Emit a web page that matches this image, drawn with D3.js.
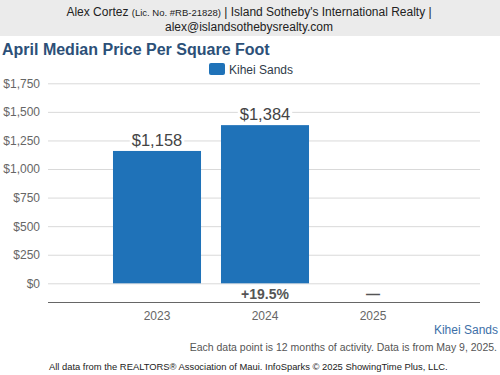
<!DOCTYPE html>
<html><head><meta charset="utf-8">
<script src="https://cdn.jsdelivr.net/npm/d3@7"></script>
<style>body{margin:0;background:#fff}svg{display:block;font-family:"Liberation Sans",Arial,sans-serif}</style>
</head><body><svg id="c" width="500" height="375"></svg>
<script>
const categories = ["2023", "2024", "2025"];
const values = [1158, 1384, null];
const valueLabels = ["$1,158", "$1,384", ""];
const changeLabels = ["", "+19.5%", "—"];
const yTicks = [0, 250, 500, 750, 1000, 1250, 1500, 1750];
const seriesName = "Kihei Sands";

const svg = d3.select("#c");
const blue = "#1f72b8";

// header
svg.append("rect").attr("x",0).attr("y",0).attr("width",500).attr("height",36).attr("fill","#ebebeb");
const h1 = svg.append("text").attr("x",249).attr("y",16).attr("text-anchor","middle").attr("fill","#222").attr("font-size",12);
h1.append("tspan").text("Alex Cortez ");
h1.append("tspan").attr("font-size",9.5).text("(Lic. No. #RB-21828)");
h1.append("tspan").text(" | Island Sotheby's International Realty |");
svg.append("text").attr("x",249).attr("y",31).attr("text-anchor","middle").attr("fill","#222").attr("font-size",12).text("alex@islandsothebysrealty.com");

// title
svg.append("text").attr("x",2).attr("y",55).attr("fill","#2c5078").attr("font-size",16).attr("font-weight","bold").text("April Median Price Per Square Foot");

// legend
svg.append("rect").attr("x",209).attr("y",63).attr("width",16).attr("height",12).attr("rx",2).attr("fill",blue);
svg.append("text").attr("x",229).attr("y",74).attr("fill","#2f3b4a").attr("font-size",12).text(seriesName);

const y = d3.scaleLinear().domain([0,1750]).range([283.3,83.3]);
const x = d3.scaleBand().domain(categories).range([103,427]).paddingInner(0.185).paddingOuter(0.0925);

// grid
const grid = svg.append("g")
  .call(d3.axisLeft(y).tickValues(yTicks).tickSize(-432).tickFormat(d => "$" + d3.format(",")(d)))
  .attr("transform","translate(48,0)");
grid.select(".domain").remove();
grid.selectAll(".tick line").attr("stroke","#d9d9d9").attr("stroke-width",1);
grid.selectAll(".tick text").attr("fill","#666").attr("font-size",12).attr("x",-8).attr("font-family","Liberation Sans, Arial, sans-serif");

// bars
svg.append("g").selectAll("rect").data(categories.map((c,i)=>({c,v:values[i]})).filter(d=>d.v!=null))
  .join("rect").attr("x",d=>x(d.c)).attr("width",x.bandwidth()).attr("y",d=>y(d.v)).attr("height",d=>y(0)-y(d.v)).attr("fill",blue);

// value labels with white background
categories.forEach((c,i)=>{
  if(values[i]==null) return;
  const cx = x(c)+x.bandwidth()/2;
  const t = svg.append("text").attr("x",cx).attr("y",y(values[i])-5).attr("text-anchor","middle").attr("fill","#444").attr("font-size",16.5).text(valueLabels[i]);
  const bb = t.node().getBBox();
  svg.insert("rect", () => t.node()).attr("x",bb.x-2).attr("y",bb.y+2).attr("width",bb.width+4).attr("height",bb.height-4).attr("fill","#fff");
});

// change labels
categories.forEach((c,i)=>{
  svg.append("text").attr("x",x(c)+x.bandwidth()/2).attr("y",299).attr("text-anchor","middle").attr("fill","#555").attr("font-size",14).attr("font-weight","bold").text(changeLabels[i]);
});

// x axis
const xa = svg.append("g").attr("transform","translate(0,302)").call(d3.axisBottom(x).tickSize(0).tickPadding(0));
xa.select(".domain").remove();
svg.append("line").attr("x1",48).attr("x2",480).attr("y1",302.5).attr("y2",302.5).attr("stroke","#666").attr("stroke-width",1);
xa.selectAll(".tick text").attr("fill","#666").attr("font-size",12).attr("dy",0).attr("y",18).attr("font-family","Liberation Sans, Arial, sans-serif");

// footer
svg.append("text").attr("x",498).attr("y",334).attr("text-anchor","end").attr("fill","#3d6fa8").attr("font-size",12).text(seriesName);
svg.append("text").attr("x",497).attr("y",351).attr("text-anchor","end").attr("fill","#555").attr("font-size",10.5).text("Each data point is 12 months of activity. Data is from May 9, 2025.");
svg.append("text").attr("x",49).attr("y",370).attr("fill","#222").attr("font-size",9.4).text("All data from the REALTORS® Association of Maui. InfoSparks © 2025 ShowingTime Plus, LLC.");
</script></body></html>
